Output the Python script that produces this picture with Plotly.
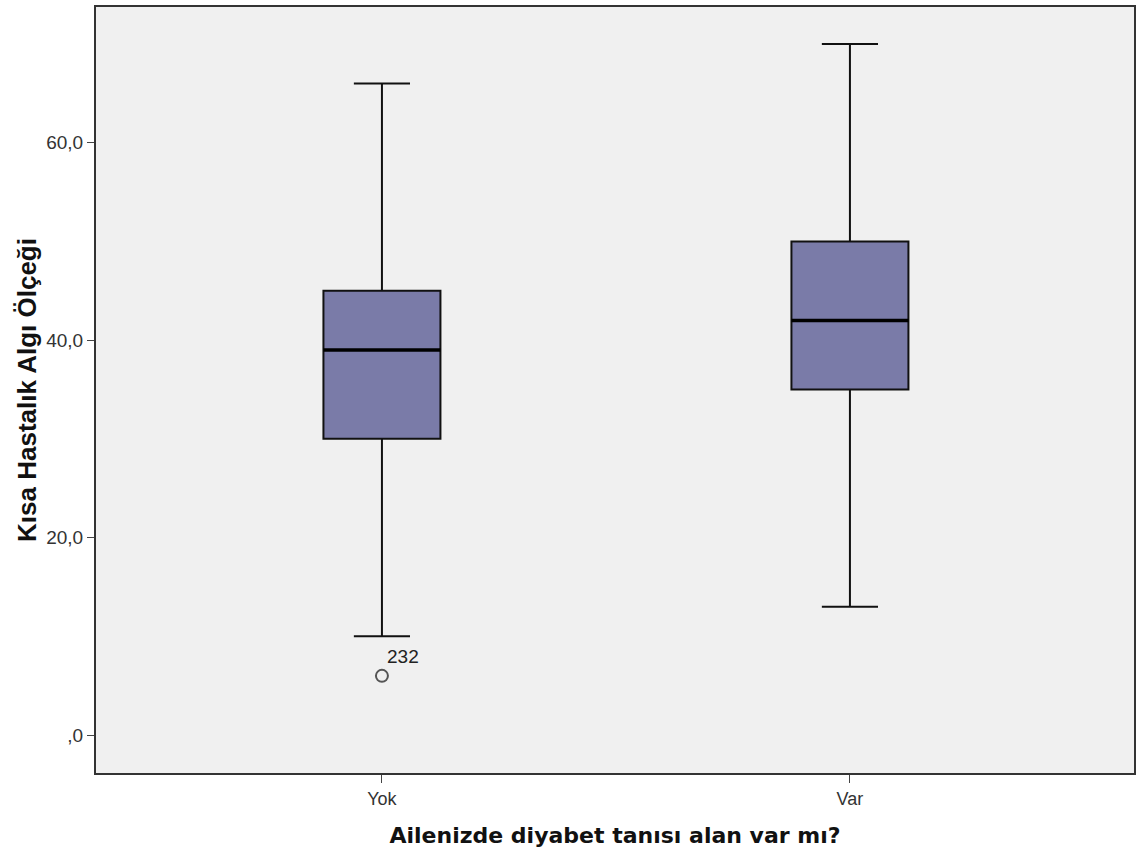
import plotly.graph_objects as go

categories = ["Yok", "Var"]
q1 = [30, 35]
median = [39, 42]
q3 = [45, 50]
lower = [10, 13]
upper = [66, 70]
outlier_cat = ["Yok"]
outlier_val = [6]
outlier_label = ["232"]

BOX_W = 0.25

fig = go.Figure()
fig.add_trace(go.Box(
    x=categories, q1=q1, median=median, q3=q3,
    lowerfence=lower, upperfence=upper,
    boxpoints=False, width=BOX_W, whiskerwidth=0.48,
    fillcolor="#7A7BA8", line=dict(color="#111111", width=2),
    showlegend=False, hoverinfo="skip",
))
# thicker median lines, as in the reference
for i, m in enumerate(median):
    fig.add_shape(type="line", xref="x", yref="y",
                  x0=i - BOX_W / 2, x1=i + BOX_W / 2, y0=m, y1=m,
                  line=dict(color="#000000", width=3.5))
fig.add_trace(go.Scatter(
    x=outlier_cat, y=outlier_val, mode="markers",
    marker=dict(symbol="circle-open", size=12, color="#555555", line=dict(width=2)),
    showlegend=False, hoverinfo="skip",
))
for c, v, t in zip(outlier_cat, outlier_val, outlier_label):
    fig.add_annotation(x=c, y=v, text=t, showarrow=False, xanchor="left", yanchor="bottom",
                       xshift=3, yshift=7, font=dict(family="Liberation Sans, Arial", size=19, color="#222"))

fig.update_layout(
    width=1142, height=859,
    margin=dict(l=96, r=8, t=5, b=86),
    paper_bgcolor="white", plot_bgcolor="#F0F0F0",
    xaxis=dict(
        type="category", range=[-0.611, 1.607],
        showline=True, mirror=True, linecolor="#333333", linewidth=2,
        ticks="outside", ticklen=8, tickcolor="#444", tickwidth=1,
        showgrid=False, zeroline=False,
        tickfont=dict(family="Liberation Sans, Arial", size=18, color="#333"),
        title=dict(text="<b>Ailenizde diyabet tanısı alan var mı?</b>", standoff=20,
                   font=dict(family="DejaVu Sans, Verdana", size=22, color="#111")),
    ),
    yaxis=dict(
        range=[-3.84, 73.74],
        tickvals=[0, 20, 40, 60], ticktext=[",0", "20,0", "40,0", "60,0"],
        showline=True, mirror=True, linecolor="#333333", linewidth=2,
        ticks="outside", ticklen=7, tickcolor="#444", tickwidth=1,
        showgrid=False, zeroline=False,
        tickfont=dict(family="Liberation Sans, Arial", size=19, color="#333"),
        title=dict(text="<b>Kısa Hastalık Algı Ölçeği</b>", standoff=2,
                   font=dict(family="Liberation Sans, Arial", size=26, color="#111")),
    ),
)

fig.write_html("out.html")
